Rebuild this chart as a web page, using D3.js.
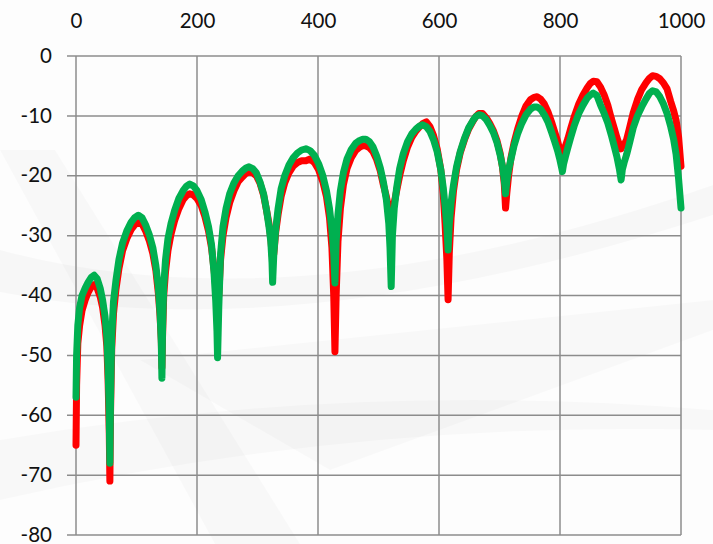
<!DOCTYPE html>
<html>
<head>
<meta charset="utf-8">
<script src="https://cdn.jsdelivr.net/npm/d3@7"></script>
<style>
  html, body { margin: 0; padding: 0; background: #fff; }
  svg { display: block; font-family: Lato, "Open Sans", sans-serif; }
</style>
</head>
<body>
<svg id="chart"></svg>
<script>
// x positions shared by both traces (one block per lobe)
const xs = [
  0, 1, 3, 6, 10, 15, 20, 25, 30, 35, 40, 44, 48, 51, 53, 55, 56,
  57, 59, 62, 66, 71, 77, 84, 91, 97, 103, 109, 115, 121, 127, 132, 136, 139, 141, 142,
  143, 145, 148, 152, 157, 163, 170, 177, 183, 188, 194, 200, 207, 213, 219, 224, 228, 231, 233, 234,
  236, 239, 243, 248, 254, 261, 268, 275, 281, 286, 292, 298, 304, 310, 315, 319, 322, 324, 325,
  327, 330, 334, 339, 345, 352, 359, 366, 373, 380, 387, 394, 401, 408, 414, 419, 423, 426, 428,
  430, 433, 437, 442, 448, 455, 462, 469, 474, 479, 485, 491, 497, 503, 508, 513, 517, 519, 521,
  523, 526, 530, 535, 541, 548, 555, 562, 568, 573, 579, 585, 591, 597, 603, 607, 610, 613, 615,
  617, 620, 624, 629, 635, 642, 649, 656, 661, 666, 672, 678, 684, 690, 696, 701, 705, 708, 710,
  712, 715, 719, 724, 730, 737, 744, 751, 757, 762, 768, 774, 780, 786, 791, 796, 800, 803, 804,
  806, 809, 813, 818, 824, 831, 838, 845, 850, 855, 861, 867, 873, 879, 885, 890, 894, 898, 901,
  903, 906, 910, 915, 921, 928, 935, 942, 948, 953, 959, 965, 971, 977, 983, 988, 992, 996, 1000
];

const redValues = [
  -65, -55, -48, -45, -42.5, -40.8, -39.5, -38.6, -38.2, -38.8, -40.2, -42, -45, -48.5, -54, -63, -71,
  -60, -49, -43, -39, -35.5, -32.5, -30.5, -29, -28.2, -27.8, -28, -29.2, -30.8, -33, -35.8, -39.5, -43.5, -47.5, -52,
  -47, -40, -36, -32.5, -29.8, -27.5, -25.5, -24, -23.3, -23, -23.2, -23.8, -25, -26.8, -29.2, -32, -35.5, -38.5, -40.5, -41,
  -40, -34, -30, -27, -24.5, -22.5, -21, -20.2, -19.6, -19.4, -19.5, -20, -21.2, -23.2, -25.8, -28, -30.5, -33, -33.8,
  -33, -29.5, -26.5, -23.5, -21.2, -19.5, -18.4, -17.8, -17.5, -17.5, -17.2, -17.8, -19, -21, -23.5, -27, -32, -40, -49.4,
  -40, -31, -25.5, -21.5, -18.8, -17, -15.8, -15.2, -15, -15, -15.3, -16, -17.3, -19.2, -21.5, -23.5, -25.5, -26.5, -27,
  -26, -24.5, -22.5, -20, -17.5, -15.2, -13.6, -12.5, -11.8, -11.3, -11, -11.8, -13.3, -15.5, -19, -23, -28, -34, -40.7,
  -33, -27, -22.5, -19, -16.2, -14, -12.2, -10.9, -10.1, -9.6, -9.6, -10.3, -11.3, -12.5, -14.2, -16.2, -18.6, -21.5, -25.4,
  -23, -20, -17, -14.5, -12.2, -10, -8.3, -7.3, -6.9, -6.8, -7.2, -8, -9.3, -11, -12.6, -14.2, -15.8, -17, -17.4,
  -16, -15, -13.8, -12, -10, -8, -6.5, -5.3, -4.6, -4.2, -4.3, -5.2, -6.5, -8.2, -10.5, -12.2, -13.6, -14.8, -15.5,
  -15, -14.8, -14, -12, -9.5, -7.3, -5.6, -4.5, -3.7, -3.3, -3.4, -3.8, -4.5, -5.5, -7.6, -9.2, -10.8, -13.5, -18.4
];

const greenValues = [
  -57, -50, -45, -42, -40, -38.8, -37.8, -37, -36.6, -37.2, -38.8, -40.8, -43.5, -47, -52, -60, -68,
  -58, -47, -41, -37.5, -34, -31.2, -29.2, -27.8, -27, -26.6, -27, -28.2, -29.8, -32, -35, -38.5, -43, -48, -53.8,
  -46, -38.5, -34, -30.5, -28, -25.8, -23.8, -22.5, -21.7, -21.4, -21.7, -22.5, -24, -26, -28.5, -31.5, -36, -41, -46, -50.4,
  -42, -33, -28.5, -25.5, -23, -21.2, -20, -19.2, -18.7, -18.5, -18.8, -19.5, -21, -23, -25.8, -28.5, -31, -34.5, -37.8,
  -33, -29, -25.5, -22.2, -20, -18.2, -17, -16.2, -15.7, -15.5, -15.8, -16.6, -18, -20, -22.5, -25.5, -29, -33, -37.9,
  -31, -26.5, -22.5, -19.5, -17.2, -15.6, -14.6, -14.1, -13.9, -13.9, -14.3, -15.2, -16.7, -18.7, -21, -24, -28, -32, -38.5,
  -30, -25.5, -22, -18.8, -16.3, -14.3, -13, -12.2, -11.7, -11.5, -11.8, -12.6, -14, -16, -19, -22, -25, -28.5, -32.4,
  -28, -24.5, -21.5, -18.5, -16, -13.8, -12, -10.8, -10.1, -9.8, -10, -10.6, -11.6, -12.8, -14.5, -16.5, -18.5, -20.8, -23,
  -21, -19, -17.2, -15, -13, -11.2, -9.8, -8.9, -8.5, -8.5, -8.9, -9.8, -11, -12.7, -14.2, -15.8, -17.4, -18.8, -19.3,
  -18, -16.8, -15.3, -13.5, -11.5, -9.6, -8.2, -7, -6.5, -6.2, -6.6, -8.2, -9.6, -11.2, -13.3, -15.2, -16.8, -18.8, -20.7,
  -19, -17.8, -16.5, -14.5, -12, -10, -8.5, -7.2, -6.2, -5.8, -6, -6.8, -8, -9.6, -11.8, -14, -16.5, -20.5, -25.4
];

const xTicks = [0, 200, 400, 600, 800, 1000];
const yTicks = [0, -10, -20, -30, -40, -50, -60, -70, -80];

const W = 713, H = 544;
const margin = { top: 56, right: 32, bottom: 9, left: 76 };
const width = W - margin.left - margin.right;
const height = H - margin.top - margin.bottom;

const svg = d3.select('#chart')
    .attr('width', W)
    .attr('height', H);

// faint background swooshes
const bg = svg.append('g');
bg.append('rect').attr('width', W).attr('height', H).attr('fill', '#fdfdfd');
bg.append('path')
    .attr('d', 'M0,150 L55,150 L300,544 L215,544 Z')
    .attr('fill', '#000').attr('opacity', 0.018);
bg.append('path')
    .attr('d', 'M0,250 Q300,330 713,185 L713,215 Q300,350 0,292 Z')
    .attr('fill', '#000').attr('opacity', 0.022);
bg.append('path')
    .attr('d', 'M0,440 Q350,380 713,410 L713,430 Q350,420 0,500 Z')
    .attr('fill', '#000').attr('opacity', 0.018);
bg.append('path')
    .attr('d', 'M140,360 L713,300 L713,330 L330,470 Z')
    .attr('fill', '#000').attr('opacity', 0.02);

const g = svg.append('g')
    .attr('transform', `translate(${margin.left},${margin.top})`);

const x = d3.scaleLinear().domain([0, 1000]).range([0, width]);
const y = d3.scaleLinear().domain([0, -80]).range([0, height]);

// grid lines
g.append('g')
    .selectAll('line')
    .data(yTicks)
    .join('line')
    .attr('x1', -9)
    .attr('x2', width)
    .attr('y1', d => y(d))
    .attr('y2', d => y(d))
    .attr('stroke', '#8c8c8c')
    .attr('stroke-width', 1.5);

g.append('g')
    .selectAll('line')
    .data(xTicks)
    .join('line')
    .attr('x1', d => x(d))
    .attr('x2', d => x(d))
    .attr('y1', 0)
    .attr('y2', height)
    .attr('stroke', '#8c8c8c')
    .attr('stroke-width', 1.5);

// axes (labels only), plain hyphen minus like the original
const fmt = d => String(d);
const xAxis = g.append('g')
    .call(d3.axisTop(x).tickValues(xTicks).tickFormat(fmt).tickSize(0).tickPadding(28));
const yAxis = g.append('g')
    .call(d3.axisLeft(y).tickValues(yTicks).tickFormat(fmt).tickSize(0).tickPadding(24));
[xAxis, yAxis].forEach(a => {
    a.select('.domain').remove();
    a.selectAll('text')
        .style('font-family', 'Lato, "Open Sans", sans-serif')
        .style('font-size', '20.5px')
        .attr('fill', '#111');
});
yAxis.selectAll('text').attr('dy', '0.3em');

const line = d3.line()
    .x((d, i) => x(xs[i]))
    .y(d => y(d));

[['#ff0000', redValues], ['#00b050', greenValues]].forEach(([color, vals]) => {
    g.append('path')
        .datum(vals)
        .attr('d', line)
        .attr('fill', 'none')
        .attr('stroke', color)
        .attr('stroke-width', 7)
        .attr('stroke-linejoin', 'round')
        .attr('stroke-linecap', 'round');
});
</script>
</body>
</html>
